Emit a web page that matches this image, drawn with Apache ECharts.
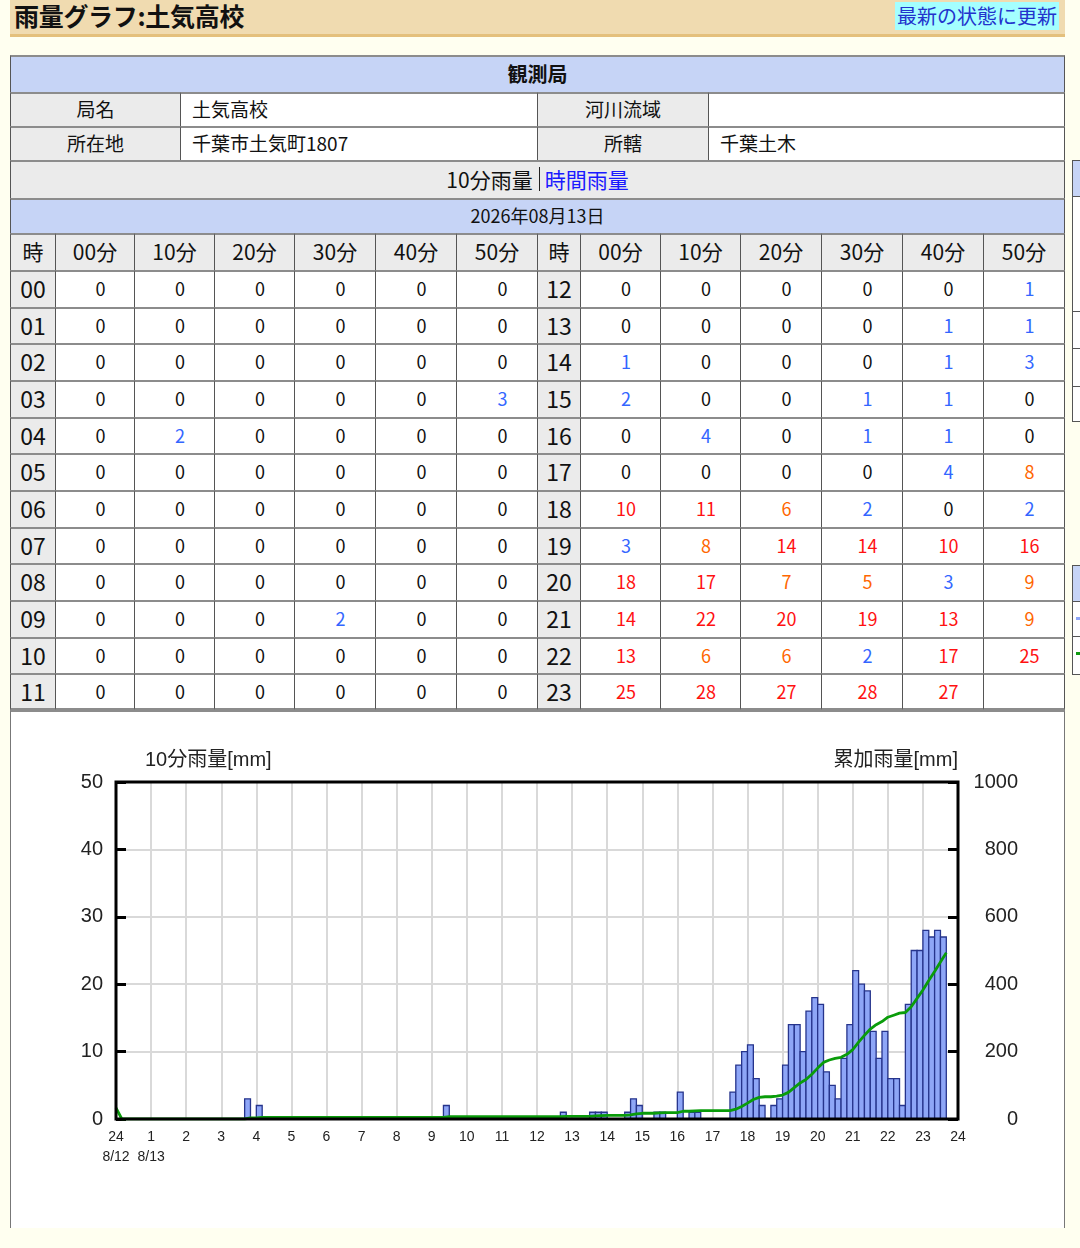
<!DOCTYPE html>
<html lang="ja">
<head>
<meta charset="utf-8">
<title>雨量グラフ:土気高校</title>
<script src="https://cdn.jsdelivr.net/npm/echarts@6/dist/echarts.min.js"></script>
<style>
html, body { margin: 0; padding: 0; }
body {
    width: 1080px; height: 1248px; position: relative; overflow: hidden;
    background: #fffff0; color: #111;
    font-family: "Noto Sans CJK JP", "Noto Sans", sans-serif;
}
#head {
    position: absolute; left: 10px; top: 0; width: 1055px; height: 34px;
    background: #f0dbb0; border-bottom: 3px solid #e4c07c;
}
#head .t { position: absolute; left: 4px; top: -1px; line-height: 33px; font-size: 25px; font-weight: bold; letter-spacing: -0.3px; }
#head .btn {
    position: absolute; right: 6px; top: 2px; height: 28px; padding: 0 2px;
    background: #a4ffff; color: #2233cc; font-size: 20px; line-height: 28px;
}
.c {
    position: absolute; box-sizing: border-box;
    border-left: 1px solid #555; border-top: 2px solid #8c8c8c; padding-bottom: 3px;
    display: flex; align-items: center; justify-content: center;
    white-space: nowrap; overflow: hidden;
}
.bar { display: inline-block; width: 1px; height: 24px; background: #222; margin: 0 5px 0 6px; }
#graphBox {
    position: absolute; left: 10px; top: 710px; width: 1055px; height: 518px;
    box-sizing: border-box; border: 1px solid #777; border-top: 2px solid #8c8c8c; background: #fff;
}
#graph { position: absolute; left: 0; top: 0; width: 1053px; height: 516px; }
.side { position: absolute; left: 1072px; width: 40px; box-sizing: border-box; border: 1px solid #555; background: #fff; }
</style>
</head>
<body>
<div id="head"><div class="t">雨量グラフ:土気高校</div><div class="btn">最新の状態に更新</div></div>
<div id="page"></div>
<div id="graphBox"><div id="graph"></div></div>

<script>
// 観測局情報
const stationName = '土気高校';
const stationAddr = '千葉市土気町1807';
const riverBasin = '';
const office = '千葉土木';
const dateText = '2026年08月13日';

// 10分雨量 [mm]  (行 = 時, 列 = 00分..50分)
const minuteLabels = ['00分', '10分', '20分', '30分', '40分', '50分'];
const hoursAM = ['00', '01', '02', '03', '04', '05', '06', '07', '08', '09', '10', '11'];
const hoursPM = ['12', '13', '14', '15', '16', '17', '18', '19', '20', '21', '22', '23'];
const rainAM = [
    [0, 0, 0, 0, 0, 0],
    [0, 0, 0, 0, 0, 0],
    [0, 0, 0, 0, 0, 0],
    [0, 0, 0, 0, 0, 3],
    [0, 2, 0, 0, 0, 0],
    [0, 0, 0, 0, 0, 0],
    [0, 0, 0, 0, 0, 0],
    [0, 0, 0, 0, 0, 0],
    [0, 0, 0, 0, 0, 0],
    [0, 0, 0, 2, 0, 0],
    [0, 0, 0, 0, 0, 0],
    [0, 0, 0, 0, 0, 0]
];
const rainPM = [
    [0, 0, 0, 0, 0, 1],
    [0, 0, 0, 0, 1, 1],
    [1, 0, 0, 0, 1, 3],
    [2, 0, 0, 1, 1, 0],
    [0, 4, 0, 1, 1, 0],
    [0, 0, 0, 0, 4, 8],
    [10, 11, 6, 2, 0, 2],
    [3, 8, 14, 14, 10, 16],
    [18, 17, 7, 5, 3, 9],
    [14, 22, 20, 19, 13, 9],
    [13, 6, 6, 2, 17, 25],
    [25, 28, 27, 28, 27, null]
];
// 前日の累加雨量 (グラフ左端)
const prevDayTotal = 33;
// x軸ラベル
const xTickLabels = ['24\n8/12', '1\n8/13', '2', '3', '4', '5', '6', '7', '8', '9', '10', '11',
    '12', '13', '14', '15', '16', '17', '18', '19', '20', '21', '22', '23', '24'];

// ---- 表 ----
const page = document.getElementById('page');
function cell(x, y, w, h, html, css) {
    const d = document.createElement('div');
    d.className = 'c';
    d.style.cssText = 'left:' + x + 'px;top:' + y + 'px;width:' + w + 'px;height:' + h + 'px;' + (css || '');
    d.innerHTML = html;
    page.appendChild(d);
}
const BLUE = 'background:#c6d4f6;';
const GRAY = 'background:#ebebeb;';
const WHITE = 'background:#fff;';
const R = 'border-right:1px solid #555;';

cell(10, 55, 1055, 37, '観測局', BLUE + R + 'font-weight:bold;font-size:20px;');
cell(10, 92, 170, 34, '局名', GRAY + 'font-size:19px;');
cell(180, 92, 357, 34, stationName, WHITE + 'font-size:19px;justify-content:flex-start;padding-left:11px;');
cell(537, 92, 171, 34, '河川流域', GRAY + 'font-size:19px;');
cell(708, 92, 357, 34, riverBasin, WHITE + R + 'font-size:19px;justify-content:flex-start;padding-left:11px;');
cell(10, 126, 170, 34, '所在地', GRAY + 'font-size:19px;');
cell(180, 126, 357, 34, stationAddr, WHITE + 'font-size:19px;justify-content:flex-start;padding-left:11px;');
cell(537, 126, 171, 34, '所轄', GRAY + 'font-size:19px;');
cell(708, 126, 357, 34, office, WHITE + R + 'font-size:19px;justify-content:flex-start;padding-left:11px;');
cell(10, 160, 1055, 38, '10分雨量<span class="bar"></span><span style="color:#1a1aff">時間雨量</span>',
    GRAY + R + 'font-size:21px;');
cell(10, 198, 1055, 35, dateText, BLUE + R + 'font-size:18px;');

const colX = [10, 55, 134, 214, 294, 375, 456, 537, 580, 660, 740, 821, 902, 983, 1065];
function valColor(v) {
    if (v === null || v === 0) return '#111';
    if (v < 5) return '#3366ff';
    if (v < 10) return '#ff6600';
    return '#ff1111';
}
// 見出し行
for (let k = 0; k < 14; k++) {
    const x = colX[k], w = colX[k + 1] - colX[k];
    const txt = (k === 0 || k === 7) ? '時' : minuteLabels[k < 7 ? k - 1 : k - 8];
    cell(x, 233, w, 37, txt, GRAY + (k === 13 ? R : '') + 'font-size:21px;');
}
for (let i = 0; i < 12; i++) {
    const y = Math.round(270 + i * 36.67);
    const h = Math.round(270 + (i + 1) * 36.67) - y;
    const last = i === 11 ? 'border-bottom:2px solid #8c8c8c;padding-bottom:1px;' : '';
    [[hoursAM, rainAM, 0], [hoursPM, rainPM, 7]].forEach(function (half) {
        const hrs = half[0], rain = half[1], c0 = half[2];
        cell(colX[c0], y, colX[c0 + 1] - colX[c0], h, hrs[i], GRAY + last + 'font-size:23px;');
        for (let j = 0; j < 6; j++) {
            const k = c0 + 1 + j;
            const v = rain[i][j];
            cell(colX[k], y, colX[k + 1] - colX[k], h, v === null ? '' : String(v),
                WHITE + last + (k === 13 ? R : '') + 'font-size:18px;padding-left:11px;color:' + valColor(v) + ';');
        }
    });
}

// 右端の見切れたパネル
function side(top, height, header, lines) {
    const d = document.createElement('div');
    d.className = 'side';
    d.style.top = top + 'px';
    d.style.height = height + 'px';
    let html = '<div style="position:absolute;left:0;top:0;width:100%;height:' + header + 'px;background:#c6d4f6;border-bottom:1px solid #555"></div>';
    lines.forEach(function (ly) {
        html += '<div style="position:absolute;left:0;top:' + (ly - top) + 'px;width:100%;height:0;border-top:1px solid #555"></div>';
    });
    d.innerHTML = html;
    document.body.appendChild(d);
    return d;
}
side(160, 262, 35, [310, 347, 385]);
const s2 = side(565, 110, 35, [635]);
s2.innerHTML += '<div style="position:absolute;left:3px;top:51px;width:5px;height:3px;background:#8ea6f7"></div>' +
    '<div style="position:absolute;left:3px;top:86px;width:5px;height:3px;background:#109a10"></div>';

// ---- グラフ ----
const barData = [];
const cumData = [[0, prevDayTotal]];
let total = 0;
[rainAM, rainPM].forEach(function (rain, half) {
    rain.forEach(function (row, i) {
        row.forEach(function (v, j) {
            if (v === null) return;
            const end = half * 12 + i + j / 6;   // 観測時刻 (その10分間の終わり)
            if (end <= 0) return;
            total += v;
            if (v > 0) barData.push([end - 1 / 6, end, v]);
            cumData.push([end, total]);
        });
    });
});

const chart = echarts.init(document.getElementById('graph'));
const axisFont = 'Liberation Sans, Noto Sans CJK JP';
const option = {
    animation: false,
    backgroundColor: '#fff',
    textStyle: { fontFamily: axisFont },
    grid: {
        left: 105, top: 70, width: 842, height: 337,
        show: true, z: 10, borderColor: '#000', borderWidth: 3, backgroundColor: 'rgba(0,0,0,0)'
    },
    xAxis: {
        type: 'value', min: 0, max: 24, interval: 1,
        axisLine: { show: false },
        axisTick: { show: false },
        splitLine: { show: true, lineStyle: { color: '#d9d9d9', width: 2 } },
        axisLabel: {
            margin: 8, fontSize: 14, lineHeight: 20, color: '#222',
            formatter: function (v) { return xTickLabels[v]; }
        }
    },
    yAxis: [{
        type: 'value', min: 0, max: 50, interval: 10,
        name: '10分雨量[mm]', nameLocation: 'end', nameGap: 12,
        nameTextStyle: { align: 'left', padding: [0, 0, 0, 29], fontSize: 20, color: '#222' },
        axisLine: { show: false },
        axisTick: { show: true, inside: true, length: 10, lineStyle: { color: '#000', width: 3 } },
        splitLine: { show: true, lineStyle: { color: '#d9d9d9', width: 2 } },
        axisLabel: { margin: 13, fontSize: 20, color: '#222' }
    }, {
        type: 'value', min: 0, max: 1000, interval: 200, position: 'right',
        name: '累加雨量[mm]', nameLocation: 'end', nameGap: 12,
        nameTextStyle: { align: 'right', fontSize: 20, color: '#222' },
        axisLine: { show: false },
        axisTick: { show: true, inside: true, length: 10, lineStyle: { color: '#000', width: 3 } },
        splitLine: { show: false },
        axisLabel: { margin: 60, align: 'right', fontSize: 20, color: '#222',
            formatter: function (v) { return String(v); } }
    }],
    series: [{
        name: '10分雨量',
        type: 'custom',
        yAxisIndex: 0,
        data: barData,
        encode: { x: [0, 1], y: 2 },
        renderItem: function (params, api) {
            const p0 = api.coord([api.value(0), api.value(2)]);
            const p1 = api.coord([api.value(1), 0]);
            return {
                type: 'rect',
                shape: { x: p0[0], y: p0[1], width: p1[0] - p0[0], height: p1[1] - p0[1] },
                style: { fill: '#8ea6f7', stroke: '#26348c', lineWidth: 1.3 }
            };
        }
    }, {
        name: '累加雨量',
        type: 'line',
        yAxisIndex: 1,
        data: cumData,
        showSymbol: false,
        z: 5,
        lineStyle: { color: '#0a9c0a', width: 2.8 }
    }]
};
chart.setOption(option);
</script>
</body>
</html>
